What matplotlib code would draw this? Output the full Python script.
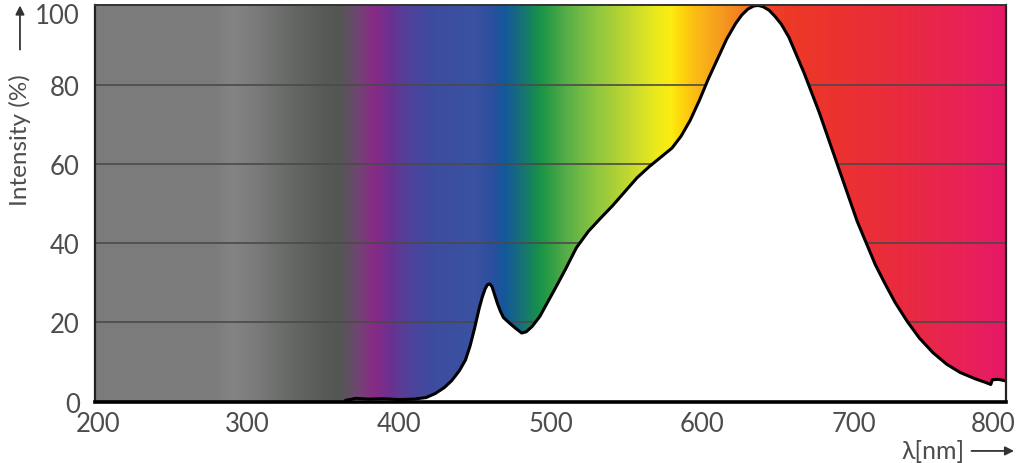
import numpy as np
import matplotlib
matplotlib.use('Agg')
import matplotlib.pyplot as plt
from matplotlib.colors import LinearSegmentedColormap
from matplotlib.patches import FancyArrowPatch
from matplotlib.transforms import ScaledTranslation

plt.rcParams['font.family'] = ['Lato', 'DejaVu Sans']

# spectrum curve
wl = [365, 372, 380, 390, 400, 410, 418, 424, 430, 435, 440, 444, 447, 450, 453,
      455, 457, 458.5, 460, 461.5, 463, 465, 467, 469, 473, 477, 481, 484, 488,
      493, 498, 504, 510, 517, 525, 533, 541, 549, 557, 565, 573, 580, 586, 592,
      598, 604, 610, 616, 622, 626, 630, 634, 637, 640, 644, 648, 652, 657, 662,
      667, 672, 677, 682, 687, 692, 697, 702, 708, 714, 720, 727, 735, 743, 752,
      761, 770, 780, 786, 790, 791, 795, 800]
intensity = [0.3, 0.8, 0.6, 0.7, 0.5, 0.6, 1.0, 2.0, 3.5, 5.3, 7.8, 10.5, 14.0,
             18.5, 23.5, 26.3, 28.5, 29.5, 29.7, 29.0, 27.2, 24.8, 22.8, 21.2,
             19.8, 18.5, 17.3, 17.6, 19.0, 21.5, 25.0, 29.2, 33.5, 38.8, 43.0,
             46.3, 49.5, 53.0, 56.5, 59.3, 61.8, 64.0, 67.0, 71.0, 76.0, 81.5,
             86.5, 91.5, 95.5, 97.6, 99.1, 99.9, 100.0, 99.7, 98.8, 97.2, 95.3,
             92.0, 87.5, 83.0, 78.0, 73.0, 67.5, 62.0, 56.5, 51.0, 45.5, 40.0,
             34.5, 30.0, 25.0, 20.2, 16.0, 12.3, 9.4, 7.3, 5.7, 4.9, 4.3, 5.5,
             5.6, 5.2]

# background colour stops (nm, colour)
stop_nm = [200, 280, 290, 305, 330, 350, 362, 372, 383, 395, 405, 420, 450, 462,
           470, 480, 492, 500, 510, 530, 552, 570, 580, 587, 595, 613, 631, 645,
           655, 690, 735, 778, 800]
stop_col = ['#7b7b7b', '#7c7c7c', '#838483', '#7a7b7a', '#656765', '#585a58',
            '#545654', '#6e4870', '#882b85', '#6a3190', '#53409a', '#3e4b9e',
            '#3a52a1', '#2b4f9f', '#12599a', '#176e7c', '#16914a', '#2f9d45',
            '#55ad48', '#8dc63f', '#c3d830', '#ecea1c', '#fcec10', '#fdd40c',
            '#fbbd14', '#f59a20', '#f27223', '#ee4525', '#ed3a26', '#ec3130',
            '#e92a40', '#e8205a', '#e61867']

yticks = [0, 20, 40, 60, 80, 100]
xticks = [200, 300, 400, 500, 600, 700, 800]

fig = plt.figure(figsize=(10.24, 4.64), dpi=100)
ax = fig.add_axes([0.0928, 0.1325, 0.8896, 0.8535])

# gradient background
pos = [(v - 200) / 600 for v in stop_nm]
cmap = LinearSegmentedColormap.from_list('spec', list(zip(pos, stop_col)), N=1024)
grad = np.linspace(0, 1, 1024).reshape(1, -1)
ax.imshow(grad, cmap=cmap, aspect='auto', extent=(200, 800, 0, 100),
          interpolation='bicubic', zorder=0)

for g in [20, 40, 60, 80]:
    ax.axhline(g, color='#4a4a4a', lw=1.2, zorder=1)

ax.fill_between(wl, intensity, 0, color='white', lw=0, zorder=2)
ax.plot(wl, intensity, color='black', lw=2.2, zorder=3, solid_capstyle='round',
        solid_joinstyle='round')

ax.set_xlim(200, 800)
ax.set_ylim(0, 100)
ax.set_xticks(xticks)
ax.set_yticks(yticks)
ax.tick_params(length=0, labelsize=18.5, labelcolor='#4d4d4d')
ax.tick_params(axis='x', pad=7)
ax.tick_params(axis='y', pad=11)

# edge labels are pushed inside the picture, as in the original
xl = ax.get_xticklabels()
xl[0].set_transform(xl[0].get_transform() + ScaledTranslation(0.03, 0, fig.dpi_scale_trans))
xl[-1].set_transform(xl[-1].get_transform() + ScaledTranslation(-0.13, 0, fig.dpi_scale_trans))
yl = ax.get_yticklabels()
yl[-1].set_transform(yl[-1].get_transform() + ScaledTranslation(0, -0.075, fig.dpi_scale_trans))

for s in ['left', 'right']:
    ax.spines[s].set_linewidth(1.6)
    ax.spines[s].set_color('#222222')
ax.spines['top'].set_linewidth(1.4)
ax.spines['top'].set_color('#333333')
ax.spines['bottom'].set_linewidth(2.6)
ax.spines['bottom'].set_color('black')
for s in ax.spines.values():
    s.set_zorder(4)

# axis labels with arrows
fig.text(0.0195, 0.698, 'Intensity (%)', rotation=90, ha='center', va='center',
         fontsize=17.5, color='#4d4d4d')
fig.patches.append(FancyArrowPatch(
    (0.0195, 0.885), (0.0195, 0.992), transform=fig.transFigure,
    arrowstyle='-|>', mutation_scale=13, color='#333333', lw=1.3))

fig.text(0.911, 0.026, 'λ[nm]', ha='center', va='center', fontsize=18,
         color='#4d4d4d')
fig.patches.append(FancyArrowPatch(
    (0.946, 0.026), (0.993, 0.026), transform=fig.transFigure,
    arrowstyle='-|>', mutation_scale=13, color='#333333', lw=1.3))

fig.savefig('out.png', dpi=100)
